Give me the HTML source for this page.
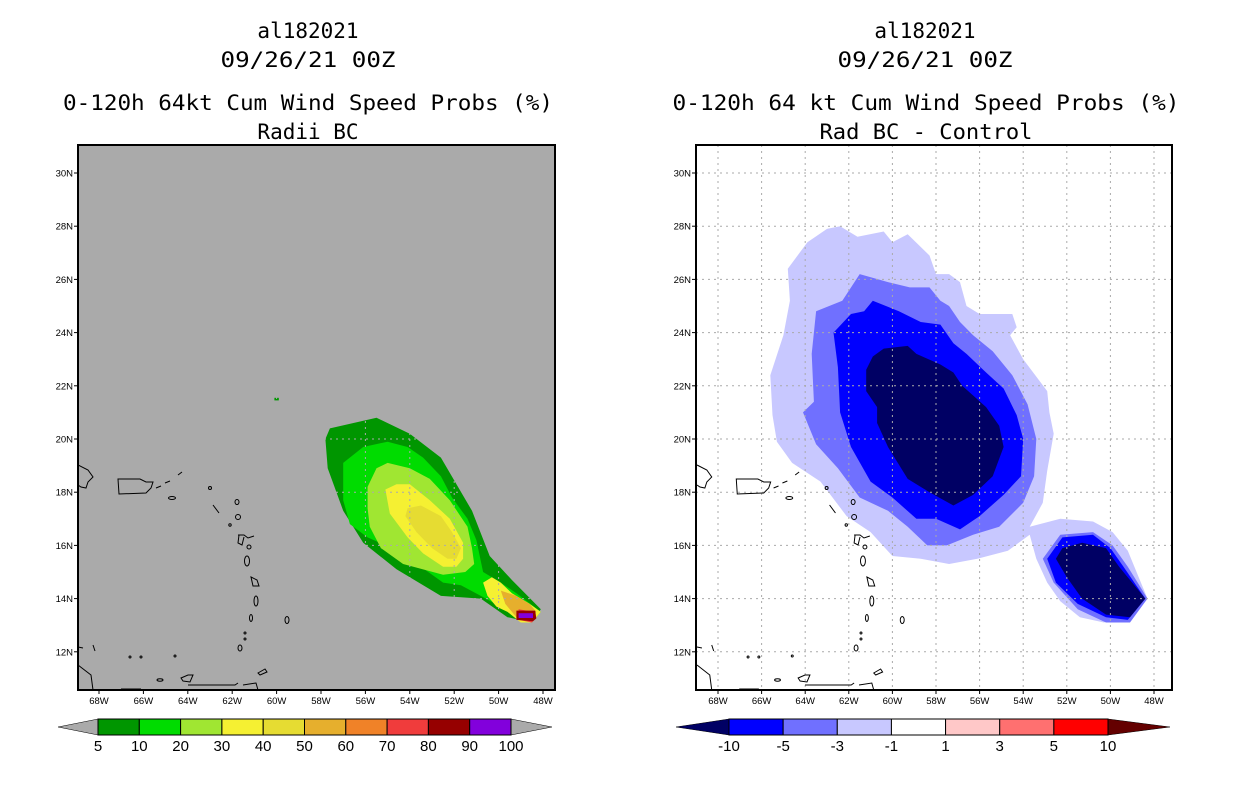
<!DOCTYPE html>
<html><head><meta charset="utf-8"><style>
body{margin:0;background:#fff;width:1236px;height:800px;overflow:hidden}
svg{display:block}
.t{font-family:"DejaVu Sans Mono","Liberation Mono",monospace;font-size:21px;fill:#000;text-anchor:middle}
.ax{font-family:"Liberation Sans",sans-serif;font-size:9.5px;fill:#000}
.cb{font-family:"Liberation Sans",sans-serif;font-size:15px;fill:#000;text-anchor:middle}
</style></head><body>
<svg id="s" width="1236" height="800" xmlns="http://www.w3.org/2000/svg">
<g>
<text class="t" x="308" y="38">al182021</text>
<text class="t" x="308" y="67" textLength="175" lengthAdjust="spacingAndGlyphs">09/26/21 00Z</text>
<text class="t" x="308" y="110" textLength="490" lengthAdjust="spacingAndGlyphs">0-120h 64kt Cum Wind Speed Probs (%)</text>
<text class="t" x="308" y="139">Radii BC</text>
</g>
<g>
<text class="t" x="925" y="38">al182021</text>
<text class="t" x="925" y="67" textLength="175" lengthAdjust="spacingAndGlyphs">09/26/21 00Z</text>
<text class="t" x="926" y="110" textLength="507" lengthAdjust="spacingAndGlyphs">0-120h 64 kt Cum Wind Speed Probs (%)</text>
<text class="t" x="926" y="139" textLength="213" lengthAdjust="spacingAndGlyphs">Rad BC - Control</text>
</g>
<defs>
<clipPath id="clipL"><rect x="78" y="145" width="477" height="545"/></clipPath>
<clipPath id="clipR"><rect x="696" y="145" width="476" height="545"/></clipPath>
<g id="coast" fill="none" stroke="#000" stroke-width="1">
<path d="M0,320 L10,325 L15,332 L10,337 L8,343 L3,342 L0,340"/>
<path d="M40,334 L62,334 L68,337 L75,337 L73,343 L68,348 L41,349 Z"/>
<path d="M78,343 L83,341 M87,338 L92,336 M100,330 L104,327"/>
<ellipse cx="94" cy="353" rx="3.5" ry="1.5"/>
<circle cx="132" cy="343" r="1.5"/><path d="M135,360 L141,368"/>
<ellipse cx="159" cy="357" rx="2" ry="2.5"/><ellipse cx="160" cy="372" rx="2.5" ry="2.5"/>
<circle cx="152" cy="380" r="1.2"/>
<path d="M160,390 L166,390 L170,393 L176,391 M161,390 L160,398 L164,400 L166,392"/>
<ellipse cx="171" cy="402" rx="2" ry="2"/>
<ellipse cx="169" cy="416" rx="2.5" ry="5"/>
<path d="M173,432 L179,435 L181,441 L175,441 Z"/>
<ellipse cx="178" cy="456" rx="2" ry="5"/>
<ellipse cx="173" cy="473" rx="1.5" ry="3.5"/>
<circle cx="167" cy="488" r="1"/><circle cx="167" cy="494" r="1"/>
<ellipse cx="162" cy="503" rx="2" ry="3"/>
<ellipse cx="209" cy="475" rx="2" ry="3.5"/>
<path d="M180,528 L187,524 L189,527 L182,530 Z"/>
<path d="M0,502 L5,503 M15,500 L17,506"/>
<path d="M0,520 L13,530 L15,545"/>
<path d="M43,544 L63,544"/><circle cx="52" cy="512" r="1"/><circle cx="63" cy="512" r="1"/><circle cx="97" cy="511" r="1"/>
<ellipse cx="82" cy="535" rx="3" ry="1.2"/>
<path d="M103,533 L110,530 L115,530 L112,537 L105,536 Z M110,540 L157,540 L160,538 M165,540 L178,538 L180,545"/>
</g>
</defs>
</svg>
<script>
const NS="http://www.w3.org/2000/svg";
const svg=document.getElementById('s');
// ---- data: contour rings [lonW, latN] ----
const probLevels=[5,10,20,30,40,50,60,70,80,90,100];
const probColors=["#009600","#00dc00","#a0e632","#f5f032","#e6dc32","#e6af2d","#f08228","#f03c3c","#960000","#8200dc"];
const ringP5=[[57.6,20.4],[55.5,20.8],[54.0,20.2],[52.6,19.3],[51.2,17.3],[50.4,15.6],[49.4,14.7],[48.1,13.6],[48.5,13.1],[49.6,13.3],[50.8,14.0],[52.6,14.1],[54.6,15.1],[56.1,16.1],[57.0,17.3],[57.7,18.9],[57.8,20.0]];
const ringP10=[[57.0,19.1],[56.1,19.7],[55.0,19.9],[54.1,19.7],[53.4,19.3],[52.6,18.6],[52.1,17.8],[51.4,17.0],[51.0,16.2],[50.7,15.0],[49.9,14.6],[49.2,14.2],[48.1,13.5],[48.5,13.1],[49.5,13.5],[50.8,14.1],[51.7,14.5],[52.5,14.6],[53.5,15.2],[54.8,15.9],[55.9,16.3],[56.7,16.8],[57.0,17.7]];
const ringP20=[[55.9,18.2],[55.5,18.9],[55.0,19.1],[54.0,18.9],[53.1,18.5],[52.2,17.7],[51.4,16.7],[51.2,15.9],[51.1,15.3],[51.5,15.0],[52.5,14.9],[54.3,15.3],[55.3,15.9],[55.8,16.7],[55.9,17.4]];
const ringP30=[[55.1,18.1],[54.6,18.3],[54.0,18.3],[53.1,17.7],[52.2,17.0],[51.6,16.1],[51.6,15.5],[51.9,15.2],[52.5,15.2],[53.4,15.7],[54.1,16.3],[54.9,17.2]];
const ringP40=[[54.1,17.4],[53.5,17.5],[52.6,17.1],[52.1,16.5],[51.7,15.9],[51.9,15.5],[52.3,15.5],[53.0,15.9],[53.7,16.5],[54.2,17.1]];
const ringP30b=[[50.7,14.6],[50.3,14.8],[49.9,14.6],[49.4,14.2],[48.6,13.8],[48.1,13.5],[48.5,13.1],[49.0,13.1],[49.6,13.5],[50.1,13.7],[50.5,14.1]];
const ringP50b=[[49.9,14.3],[49.2,14.1],[48.6,13.8],[48.3,13.5],[48.6,13.2],[49.2,13.3],[49.7,13.8]];
const ringP70b=[[49.1,13.6],[48.4,13.5],[48.3,13.3],[48.5,13.1],[49.1,13.2]];
const ringP80b=[[49.2,13.55],[48.35,13.55],[48.3,13.25],[48.45,13.15],[49.2,13.2]];
const ringP90b=[[49.1,13.45],[48.45,13.45],[48.45,13.27],[49.1,13.27]];
const ringP10dot=[[60.1,21.55],[59.9,21.55],[59.9,21.45],[60.1,21.45]];
const leftRings=[[ringP5,0],[ringP10,1],[ringP20,2],[ringP30,3],[ringP40,4],[ringP30b,3],[ringP50b,5],[ringP70b,7],[ringP80b,8],[ringP90b,9],[ringP10dot,0]];

const diffLevels=["-10","-5","-3","-1","1","3","5","10"];
const diffColors=["#000064","#0000ff","#7070ff","#c8c8ff","#ffffff","#ffc8c8","#ff7070","#ff0000","#640000"];
const ringD1=[[64.8,26.4],[63.9,27.4],[63.0,27.9],[62.4,28.0],[61.6,27.6],[60.4,27.8],[60.0,27.4],[59.3,27.7],[58.3,26.9],[58.0,26.2],[57.4,26.2],[56.9,25.9],[56.6,25.0],[56.0,24.7],[54.5,24.7],[54.3,24.2],[54.6,23.9],[54.0,23.0],[52.9,21.8],[52.8,21.0],[52.6,20.2],[52.9,18.8],[53.1,17.6],[53.7,16.7],[52.3,17.0],[50.8,16.9],[49.9,16.5],[49.2,15.8],[48.3,14.0],[49.0,13.3],[50.3,13.1],[51.4,13.3],[52.3,13.9],[52.9,14.6],[53.4,15.5],[53.7,16.4],[54.7,15.8],[56.1,15.5],[57.4,15.3],[58.7,15.5],[60.0,15.6],[61.0,16.5],[62.1,17.1],[63.3,18.4],[64.6,19.1],[65.3,19.9],[65.5,20.9],[65.6,22.4],[65.0,23.9],[64.7,25.2]];
const ringD3=[[61.5,26.2],[60.2,25.9],[59.2,25.7],[58.3,25.7],[57.8,25.2],[57.4,25.0],[56.9,24.4],[56.3,23.9],[55.4,23.3],[54.5,22.4],[53.8,21.3],[53.4,20.0],[53.5,18.6],[54.0,17.6],[55.1,16.7],[56.3,16.4],[57.5,16.0],[58.4,16.0],[59.3,16.7],[60.2,17.3],[61.5,17.8],[62.5,18.9],[63.5,19.8],[64.1,21.0],[63.6,21.4],[63.7,23.2],[63.5,24.8],[62.3,25.2]];
const ringD5=[[60.9,25.2],[59.7,24.8],[58.7,24.4],[57.8,24.3],[57.2,23.6],[56.6,23.2],[55.7,22.5],[54.9,21.9],[54.3,20.9],[54.0,20.0],[54.1,18.6],[54.9,17.9],[56.0,17.1],[56.9,16.6],[58.0,17.0],[58.9,17.0],[60.0,17.8],[61.0,18.4],[61.9,19.7],[62.4,21.0],[62.5,22.7],[62.7,24.0],[61.9,24.7],[61.3,24.8]];
const ringD10=[[60.4,23.4],[59.3,23.5],[58.9,23.2],[57.8,22.8],[57.2,22.5],[56.8,22.0],[55.7,21.2],[55.1,20.5],[54.9,19.7],[55.4,18.6],[56.3,17.9],[57.2,17.5],[58.3,18.0],[59.3,18.5],[60.2,19.7],[60.7,20.6],[60.7,21.2],[61.2,21.8],[61.2,22.6],[60.9,23.1]];
const ringD3b=[[53.1,15.5],[52.3,16.4],[50.8,16.5],[49.9,16.0],[49.2,15.2],[48.3,14.0],[49.1,13.1],[50.2,13.1],[51.5,13.6],[52.6,14.6]];
const ringD5b=[[52.9,15.5],[52.2,16.3],[50.8,16.4],[50.0,15.9],[49.4,15.2],[48.4,14.0],[49.2,13.2],[50.2,13.3],[51.5,13.8],[52.5,14.6]];
const ringD10b=[[52.5,15.5],[52.2,15.9],[51.3,16.1],[50.2,15.9],[49.6,15.2],[48.4,14.0],[49.1,13.3],[50.2,13.4],[51.3,14.0],[52.0,14.8]];
const rightRings=[[ringD1,3],[ringD3,2],[ringD5,1],[ringD10,0],[ringD3b,2],[ringD5b,1],[ringD10b,0]];

const lonTicks=[68,66,64,62,60,58,56,54,52,50,48];
const latTicks=[30,28,26,24,22,20,18,16,14,12];

// ---- axes ----
const Y=lat=>173+(30-lat)*26.6;
const XL=lon=>99+(68-lon)*22.2;
const XR=lon=>718+(68-lon)*21.8;

function el(tag,attrs,parent){const e=document.createElementNS(NS,tag);for(const k in attrs)e.setAttribute(k,attrs[k]);(parent||svg).appendChild(e);return e;}

function panel(X,fx,fy,fw,fh,bg,rings,colors,clip,side,gridColor){
  const g=el('g',{});
  
  
  el('rect',{x:fx,y:fy,width:fw,height:fh,fill:bg},g);
  const cg=el('g',{'clip-path':'url(#'+clip+')'},g);
  rings.forEach(([ring,ci],i)=>{
    const p=el('path',{d:'M'+ring.map(([lo,la])=>X(lo).toFixed(1)+','+Y(la).toFixed(1)).join('L')+'Z',fill:colors[ci]},cg);
    
    
  });
  const grid=el('g',{stroke:gridColor,'stroke-width':1,'stroke-dasharray':'2,4'},cg);
  
  
  lonTicks.forEach(lo=>el('line',{x1:X(lo),x2:X(lo),y1:fy,y2:fy+fh},grid));
  latTicks.forEach(la=>el('line',{x1:fx,x2:fx+fw,y1:Y(la),y2:Y(la)},grid));
  const sx=side==='left'?1:0.982;
  const u=el('use',{href:'#coast',transform:'translate('+(fx+(side==='left'?0:1))+','+fy+') scale('+sx+',1)'},cg);
  
  
  el('rect',{x:fx,y:fy,width:fw,height:fh,fill:'none',stroke:'#000','stroke-width':2},g);
  const ax=el('g',{},g);
  
  
  latTicks.forEach(la=>{
    el('line',{x1:fx-4,x2:fx,y1:Y(la),y2:Y(la),stroke:'#000'},ax);
    const t=el('text',{class:'ax',x:fx-5,y:Y(la)+3.5,'text-anchor':'end'},ax);t.textContent=la+'N';
  });
  lonTicks.forEach(lo=>{
    el('line',{x1:X(lo),x2:X(lo),y1:fy+fh,y2:fy+fh+4,stroke:'#000'},ax);
    const t=el('text',{class:'ax',x:X(lo),y:fy+fh+14,'text-anchor':'middle'},ax);t.textContent=lo+'W';
  });
}
panel(XL,78,145,477,545,'#aaaaaa',leftRings,probColors,'clipL','left','#aaaaaa');
panel(XR,696,145,476,545,'#ffffff',rightRings,diffColors,'clipR','right','#aaaaaa');

// ---- colorbars ----
function colorbar(x0,x1,tipL,tipR,colors,labels,leftTri,rightTri,side){
  const g=el('g',{});
  
  
  const y0=719,y1=735,ym=727,n=colors.length,w=(x1-x0)/n;
  el('path',{d:`M${x0},${y0}L${tipL},${ym}L${x0},${y1}Z`,fill:leftTri,stroke:'#000','stroke-width':0.5},g);
  el('path',{d:`M${x1},${y0}L${tipR},${ym}L${x1},${y1}Z`,fill:rightTri,stroke:'#000','stroke-width':0.5},g);
  colors.forEach((c,i)=>el('rect',{x:x0+i*w,y:y0,width:w,height:y1-y0,fill:c,stroke:'#000','stroke-width':1},g));
  labels.forEach((l,i)=>{const t=el('text',{class:'cb',x:x0+i*w,y:751},g);t.textContent=l;});
}
colorbar(98,511,58,552,probColors,probLevels.map(String),'#aaaaaa','#aaaaaa','left');
colorbar(729,1108,676,1170,diffColors.slice(1,8),diffLevels,diffColors[0],diffColors[8],'right');
</script>
</body></html>
